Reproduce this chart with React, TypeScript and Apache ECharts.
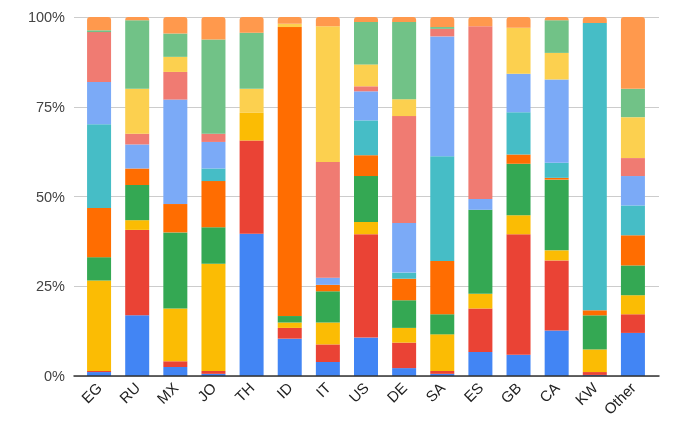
import React, { useEffect, useRef } from "react";
import * as echarts from "echarts";

const categories = ["EG", "RU", "MX", "JO", "TH", "ID", "IT", "US", "DE", "SA", "ES", "GB", "CA", "KW", "Other"];

const seriesNames = ["S1", "S2", "S3", "S4", "S5", "S6", "S7", "S8", "S9", "S10", "S11"];
const colors = ["#4285F4", "#EA4335", "#FBBC04", "#34A853", "#FF6D01", "#46BDC6", "#7BAAF7", "#F07B72", "#FCD04F", "#71C287", "#FF994D"];

// values per category (bottom to top), percent
const s1 = [1.1, 16.9, 2.5, 0.6, 39.6, 10.4, 3.9, 10.7, 2.2, 0.6, 6.7, 5.9, 12.7, 0.3, 12.0];
const s2 = [0.3, 23.8, 1.6, 0.8, 26.0, 3.0, 4.9, 28.8, 7.1, 0.8, 12.1, 33.6, 19.5, 0.8, 5.2];
const s3 = [25.2, 2.7, 14.7, 29.9, 7.7, 1.5, 6.1, 3.4, 4.1, 10.2, 4.1, 5.3, 2.8, 6.3, 5.3];
const s4 = [6.5, 9.8, 21.2, 10.1, 0, 1.8, 8.7, 12.8, 7.7, 5.6, 23.4, 14.3, 19.7, 9.5, 8.3];
const s5 = [13.7, 4.6, 7.9, 12.9, 0, 80.5, 1.8, 5.8, 6.0, 14.8, 0, 2.6, 0.5, 1.4, 8.4];
const s6 = [23.3, 0, 0, 3.5, 0, 0, 0, 9.7, 1.7, 29.2, 0, 11.8, 4.2, 80.0, 8.3];
const s7 = [11.8, 6.7, 29.1, 7.4, 0, 0, 2.0, 8.1, 13.8, 33.4, 3.0, 10.7, 23.2, 0, 8.2];
const s8 = [13.9, 3.0, 7.7, 2.3, 0, 0, 32.2, 1.4, 29.8, 2.1, 48.1, 0, 0, 0, 5.0];
const s9 = [0, 12.5, 4.2, 0, 6.7, 0.9, 37.8, 6.1, 4.7, 0, 0, 12.8, 7.4, 0, 11.4];
const s10 = [0.5, 19.1, 6.5, 26.2, 15.6, 0, 0, 11.8, 21.5, 0.5, 0, 0, 9.1, 0, 7.9];
const s11 = [3.7, 0.9, 4.6, 6.3, 4.4, 1.9, 2.6, 1.4, 1.4, 2.8, 2.6, 3.0, 0.9, 1.7, 20.0];

const rawSeries = [s1, s2, s3, s4, s5, s6, s7, s8, s9, s10, s11];
const yTicks = [0, 25, 50, 75, 100];

export default function App() {
  const ref = useRef<HTMLDivElement>(null);
  useEffect(() => {
    if (!ref.current) return;
    const chart = echarts.init(ref.current, null, { renderer: "svg" });
    const totals = categories.map((_, i) => rawSeries.reduce((a, s) => a + s[i], 0));
    const series = rawSeries.map((s, k) => ({
      name: seriesNames[k],
      type: "bar",
      stack: "total",
      barWidth: 24,
      xAxisIndex: 1,
      yAxisIndex: 1,
      z: 3,
      data: s.map((v, i) => (v / totals[i]) * 100),
      itemStyle: {
        color: colors[k],
        borderRadius: k === rawSeries.length - 1 ? [3, 3, 0, 0] : 0,
      },
    }));
    const font = "Arial, 'Liberation Sans', sans-serif";
    chart.setOption({
      animation: false,
      grid: [
        { left: 74, right: 21, top: 17, bottom: 63 },
        { left: 80, right: 28, top: 17, bottom: 63 },
      ],
      xAxis: [
        {
          gridIndex: 0,
          type: "value",
          min: 0,
          max: 1,
          axisLabel: { show: false },
          axisTick: { show: false },
          splitLine: { show: false },
          axisLine: { show: true, lineStyle: { color: "#333", width: 1.5 } },
          z: 5,
        },
        {
          gridIndex: 1,
          type: "category",
          data: categories,
          axisTick: { show: false },
          axisLine: { show: false },
          axisLabel: {
            rotate: 45,
            fontSize: 15,
            color: "#222",
            fontFamily: font,
            margin: 9,
            interval: 0,
          },
        },
      ],
      yAxis: [
        {
          gridIndex: 0,
          type: "value",
          min: yTicks[0],
          max: yTicks[yTicks.length - 1],
          interval: 25,
          axisLabel: {
            formatter: (v: number) => v + "%",
            fontSize: 14.5,
            color: "#444",
            fontFamily: font,
            margin: 9,
          },
          splitLine: { lineStyle: { color: "#ccc" } },
          axisLine: { show: false },
          axisTick: { show: false },
        },
        {
          gridIndex: 1,
          type: "value",
          min: yTicks[0],
          max: yTicks[yTicks.length - 1],
          interval: 25,
          axisLabel: { show: false },
          splitLine: { show: false },
          axisLine: { show: false },
          axisTick: { show: false },
        },
      ],
      series,
    });
    return () => chart.dispose();
  }, []);
  return <div ref={ref} style={{ position: "fixed", left: 0, top: 0, width: 680, height: 439 }} />;
}
